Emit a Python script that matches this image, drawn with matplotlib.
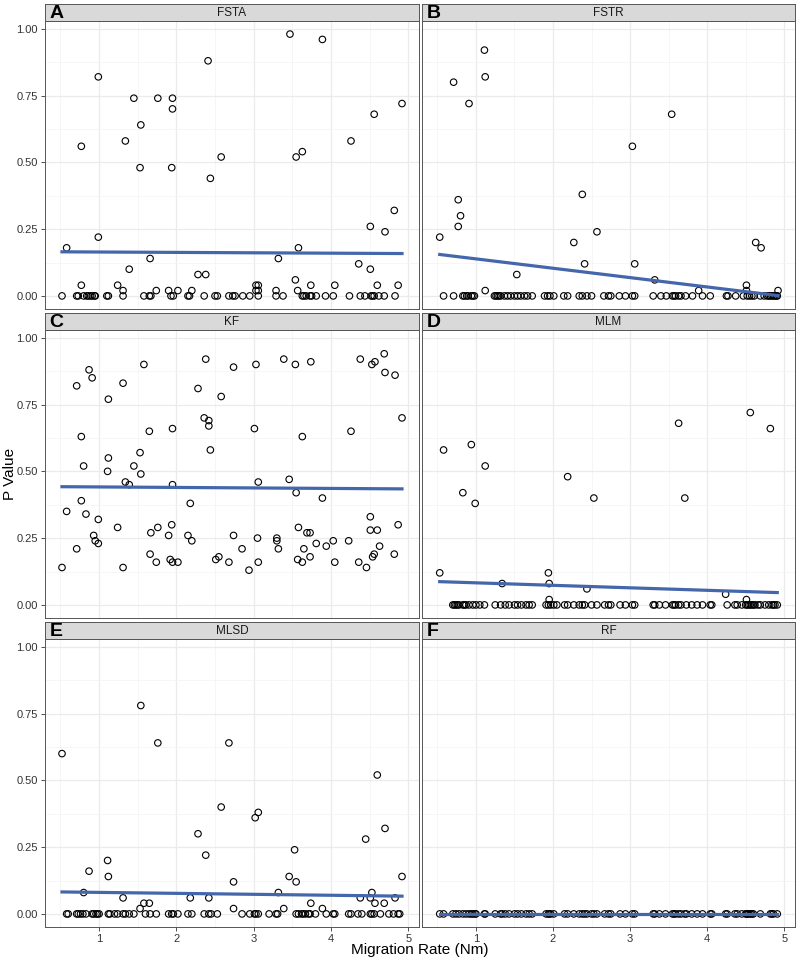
import matplotlib.pyplot as plt
import numpy as np

plt.rcParams['font.family'] = ['Liberation Sans', 'DejaVu Sans']

# ---- values (non-zero p values + runs that gave p = 0) ----
fsta_x = [0.58, 0.77, 0.77, 0.99, 0.99, 1.24, 1.31, 1.39, 1.34, 1.45, 1.54, 1.53, 1.66, 1.74, 1.76,
          1.90, 1.95, 1.95, 1.94, 2.02, 2.20, 2.28, 2.38, 2.41, 2.44, 2.58, 3.47, 3.89, 4.92, 4.56,
          4.26, 3.55, 3.63, 4.82, 4.51, 4.70, 3.58, 3.32, 4.36, 4.51, 3.54, 3.03, 3.06, 3.03, 3.06,
          3.29, 3.57, 3.74, 4.05, 4.60, 4.87]
fsta_p = [0.18, 0.04, 0.56, 0.82, 0.22, 0.04, 0.02, 0.10, 0.58, 0.74, 0.64, 0.48, 0.14, 0.02, 0.74,
          0.02, 0.74, 0.70, 0.48, 0.02, 0.02, 0.08, 0.08, 0.88, 0.44, 0.52, 0.98, 0.96, 0.72, 0.68,
          0.58, 0.52, 0.54, 0.32, 0.26, 0.24, 0.18, 0.14, 0.12, 0.10, 0.06, 0.04, 0.04, 0.02, 0.02,
          0.02, 0.02, 0.04, 0.04, 0.04, 0.04]
fsta_zero_x = [0.52, 0.71, 0.73, 0.80, 0.84, 0.86, 0.89, 0.91, 0.94, 0.95, 1.10, 1.12, 1.31,
               1.58, 1.65, 1.67, 1.93, 1.96, 2.15, 2.17, 2.36, 2.50, 2.53, 2.68, 2.73, 2.76,
               2.86, 2.95, 3.06, 3.29, 3.38, 3.63, 3.65, 3.68, 3.73, 3.75, 3.81, 3.93, 4.03, 4.24,
               4.38, 4.44, 4.52, 4.54, 4.56, 4.62, 4.69, 4.83]

fstr_x = [0.53, 0.71, 0.77, 0.80, 0.77, 0.91, 1.11, 1.12, 1.12, 1.53, 2.38, 2.27, 2.41, 2.57,
          3.03, 3.54, 3.06, 3.32, 3.89, 4.63, 4.70, 4.51, 4.51, 4.92]
fstr_p = [0.22, 0.80, 0.36, 0.30, 0.26, 0.72, 0.92, 0.82, 0.02, 0.08, 0.38, 0.20, 0.12, 0.24,
          0.56, 0.68, 0.12, 0.06, 0.02, 0.20, 0.18, 0.04, 0.02, 0.02]
fstr_zero_x = [0.58, 0.71, 0.83, 0.85, 0.88, 0.90, 0.94, 0.96, 0.98, 1.24, 1.26, 1.28, 1.30, 1.32,
               1.37, 1.41, 1.45, 1.50, 1.54, 1.58, 1.63, 1.67, 1.73, 1.89, 1.93, 1.96,
               2.01, 2.14, 2.19, 2.34, 2.38, 2.44, 2.50, 2.66, 2.72, 2.75, 2.86, 2.94, 3.03, 3.06,
               3.30, 3.40, 3.47, 3.55, 3.57, 3.59, 3.63, 3.66, 3.72, 3.81, 3.94, 4.04, 4.25, 4.27,
               4.37, 4.47, 4.52, 4.55, 4.58, 4.61, 4.69, 4.74, 4.78, 4.80, 4.82, 4.84, 4.86, 4.88,
               4.90, 4.91]

kf_x = [0.52, 0.58, 0.71, 0.71, 0.77, 0.80, 0.77, 0.83, 0.87, 0.91, 0.93, 0.95, 0.99, 0.99, 1.12,
        1.12, 1.11, 1.24, 1.31, 1.31, 1.34, 1.39, 1.45, 1.53, 1.54, 1.58, 1.65, 1.66, 1.74, 1.67,
        1.76, 1.90, 1.94, 1.92, 1.95, 2.02, 1.95, 1.95, 2.15, 2.20, 2.18, 2.28, 2.36, 2.42, 2.42,
        2.44, 2.38, 2.58, 2.51, 2.55, 2.68, 2.74, 2.74,
        3.03, 3.39, 3.54, 3.74, 4.38, 4.53, 4.57, 4.69, 4.70, 4.83, 4.92, 3.01, 3.63, 4.26, 3.06,
        3.46, 3.55, 3.89, 4.51, 4.87, 3.58, 3.69, 3.73, 4.51, 4.60, 2.85, 3.05, 3.30, 3.30, 3.32,
        3.81, 3.94, 4.03, 4.23, 3.65, 3.57, 3.63, 3.73, 4.05, 4.36, 4.63, 4.56, 4.54, 4.82, 2.94,
        3.06, 4.46]
kf_p = [0.14, 0.35, 0.82, 0.21, 0.63, 0.52, 0.39, 0.34, 0.88, 0.85, 0.26, 0.24, 0.23, 0.32, 0.77,
        0.55, 0.50, 0.29, 0.83, 0.14, 0.46, 0.45, 0.52, 0.57, 0.49, 0.90, 0.65, 0.19, 0.16, 0.27,
        0.29, 0.26, 0.30, 0.17, 0.16, 0.16, 0.66, 0.45, 0.26, 0.24, 0.38, 0.81, 0.70, 0.69, 0.67,
        0.58, 0.92, 0.78, 0.17, 0.18, 0.16, 0.89, 0.26,
        0.90, 0.92, 0.90, 0.91, 0.92, 0.90, 0.91, 0.94, 0.87, 0.86, 0.70, 0.66, 0.63, 0.65, 0.46,
        0.47, 0.42, 0.40, 0.33, 0.30, 0.29, 0.27, 0.27, 0.28, 0.28, 0.21, 0.25, 0.25, 0.24, 0.21,
        0.23, 0.22, 0.24, 0.24, 0.21, 0.17, 0.16, 0.18, 0.16, 0.16, 0.22, 0.19, 0.18, 0.19, 0.13,
        0.16, 0.14]
kf_zero_x = []

mlm_x = [0.53, 0.58, 0.94, 0.83, 0.99, 1.12, 1.34, 1.94, 1.95, 1.95, 2.19, 2.44, 2.53,
         3.63, 3.71, 4.56, 4.82, 4.24, 4.51]
mlm_p = [0.12, 0.58, 0.60, 0.42, 0.38, 0.52, 0.08, 0.12, 0.08, 0.02, 0.48, 0.06, 0.40,
         0.68, 0.40, 0.72, 0.66, 0.04, 0.02]
mlm_zero_x = [0.70, 0.72, 0.74, 0.76, 0.78, 0.83, 0.85, 0.87, 0.91, 0.96, 1.00, 1.05, 1.11, 1.25,
              1.32, 1.38, 1.43, 1.50, 1.54, 1.59, 1.65, 1.69, 1.73, 1.91, 1.94, 1.97, 2.01, 2.05,
              2.15, 2.19, 2.27, 2.34, 2.38, 2.41, 2.50, 2.57, 2.67, 2.72, 2.75, 2.87, 2.94, 3.03,
              3.06, 3.30, 3.32, 3.38, 3.46, 3.55, 3.57, 3.59, 3.63, 3.66, 3.73, 3.80, 3.87, 3.94,
              4.04, 4.06, 4.26, 4.36, 4.39, 4.45, 4.50, 4.52, 4.54, 4.56, 4.58, 4.60, 4.62, 4.66,
              4.69, 4.75, 4.80, 4.84, 4.86, 4.88, 4.91]

mlsd_x = [0.52, 0.80, 0.87, 1.11, 1.12, 1.31, 1.54, 1.53, 1.58, 1.65, 1.76, 2.18, 2.28, 2.38,
          2.42, 2.58, 2.68, 2.74, 2.74, 3.02, 3.06, 3.32, 3.39, 3.46, 3.53, 3.55, 3.74, 3.89,
          4.45, 4.60, 4.70, 4.38, 4.51, 4.53, 4.57, 4.69, 4.83, 4.92]
mlsd_p = [0.60, 0.08, 0.16, 0.20, 0.14, 0.06, 0.78, 0.02, 0.04, 0.04, 0.64, 0.06, 0.30, 0.22,
          0.06, 0.40, 0.64, 0.12, 0.02, 0.36, 0.38, 0.08, 0.02, 0.14, 0.24, 0.12, 0.04, 0.02,
          0.28, 0.52, 0.32, 0.06, 0.06, 0.08, 0.04, 0.04, 0.06, 0.14]
mlsd_zero_x = [0.58, 0.60, 0.71, 0.73, 0.76, 0.79, 0.83, 0.91, 0.93, 0.96, 0.98, 1.00, 1.12, 1.14,
               1.20, 1.24, 1.31, 1.34, 1.39, 1.45, 1.60, 1.66, 1.74, 1.90, 1.94, 1.96, 2.02, 2.15,
               2.20, 2.36, 2.42, 2.45, 2.53, 2.85, 2.95, 3.01, 3.03, 3.06, 3.20, 3.29, 3.31, 3.55,
               3.58, 3.62, 3.64, 3.67, 3.71, 3.73, 3.80, 3.94, 4.03, 4.05, 4.23, 4.26, 4.35, 4.40,
               4.51, 4.53, 4.56, 4.64, 4.75, 4.81, 4.87, 4.89]

rf_x = []
rf_p = []
rf_zero_x = [0.53, 0.58, 0.70, 0.74, 0.78, 0.83, 0.87, 0.91, 0.94, 0.96, 0.99, 1.00, 1.11, 1.12,
             1.25, 1.32, 1.34, 1.38, 1.43, 1.50, 1.54, 1.59, 1.65, 1.69, 1.73, 1.91, 1.94, 1.95,
             1.97, 2.01, 2.15, 2.19, 2.27, 2.34, 2.38, 2.41, 2.44, 2.50, 2.53, 2.57, 2.67, 2.72,
             2.75, 2.87, 2.94, 3.03, 3.06, 3.30, 3.32, 3.38, 3.46, 3.55, 3.57, 3.59, 3.63, 3.66,
             3.71, 3.73, 3.80, 3.87, 3.94, 4.04, 4.06, 4.24, 4.26, 4.36, 4.39, 4.45, 4.50, 4.51,
             4.52, 4.54, 4.56, 4.58, 4.60, 4.69, 4.82, 4.84, 4.86, 4.91]

letters = ['A', 'B', 'C', 'D', 'E', 'F']
methods = ['FSTA', 'FSTR', 'KF', 'MLM', 'MLSD', 'RF']


def combine(nx, npv, zx):
    x = np.array(nx + zx, dtype=float)
    p = np.array(npv + [0.0] * len(zx), dtype=float)
    return x, p


data = [combine(fsta_x, fsta_p, fsta_zero_x),
        combine(fstr_x, fstr_p, fstr_zero_x),
        combine(kf_x, kf_p, kf_zero_x),
        combine(mlm_x, mlm_p, mlm_zero_x),
        combine(mlsd_x, mlsd_p, mlsd_zero_x),
        combine(rf_x, rf_p, rf_zero_x)]

# linear fits (geom_smooth(method = "lm"))
fits = []
for x, p in data:
    b, a = np.polyfit(x, p, 1)
    xs = np.array([x.min(), x.max()])
    fits.append((xs, a + b * xs))

# shared scales with 5% expansion like ggplot
all_x = np.concatenate([d[0] for d in data])
all_y = np.concatenate([d[1] for d in data] + [f[1] for f in fits])
xr = all_x.max() - all_x.min()
yr = all_y.max() - all_y.min()
xlim = (all_x.min() - 0.05 * xr, all_x.max() + 0.05 * xr)
ylim = (all_y.min() - 0.05 * yr, all_y.max() + 0.05 * yr)

W, H = 800, 960
fig = plt.figure(figsize=(8, 9.6), dpi=100)

col_left = [45, 422]
col_w = [374, 373]
row_top = [21, 330, 639]
panel_h = 288
strip_h = 17
line_col = '#4466aa'

for i in range(6):
    r, c = divmod(i, 2)
    left = col_left[c] / W
    width = col_w[c] / W
    bottom = 1 - (row_top[r] + panel_h) / H
    height = panel_h / H
    ax = fig.add_axes([left, bottom, width, height])
    x, p = data[i]
    ax.scatter(x, p, s=22, facecolors='none', edgecolors='black', linewidths=0.8, zorder=3)
    ax.plot(fits[i][0], fits[i][1], color=line_col, lw=2.3, zorder=4)
    ax.set_xlim(xlim)
    ax.set_ylim(ylim)
    ax.set_xticks([1, 2, 3, 4, 5])
    ax.set_xticks([0.5, 1.5, 2.5, 3.5, 4.5], minor=True)
    ax.set_yticks([0, 0.25, 0.5, 0.75, 1.0])
    ax.set_yticks([0.125, 0.375, 0.625, 0.875], minor=True)
    ax.grid(True, which='major', color='#ebebeb', lw=0.9, zorder=0)
    ax.grid(True, which='minor', color='#f3f3f3', lw=0.5, zorder=0)
    ax.set_axisbelow(True)
    for s in ax.spines.values():
        s.set_color('#555555')
        s.set_linewidth(0.7)
    ax.tick_params(which='minor', length=0)
    ax.tick_params(which='major', length=3, width=0.6, color='#333333',
                   labelsize=8, labelcolor='#333333', pad=2)
    if r == 2:
        ax.set_xticklabels(['1', '2', '3', '4', '5'])
    else:
        ax.tick_params(axis='x', length=0, labelbottom=False)
    if c == 0:
        ax.set_yticklabels(['0.00', '0.25', '0.50', '0.75', '1.00'])
    else:
        ax.tick_params(axis='y', length=0, labelleft=False)

    # facet strip
    sax = fig.add_axes([left, 1 - row_top[r] / H, width, strip_h / H])
    sax.set_facecolor('#d9d9d9')
    sax.set_xticks([])
    sax.set_yticks([])
    for s in sax.spines.values():
        s.set_color('#555555')
        s.set_linewidth(0.7)
    sax.text(0.5, 0.45, methods[i], ha='center', va='center', fontsize=8.5,
             color='#1a1a1a', transform=sax.transAxes)
    sax.text(0.012, 0.42, letters[i], ha='left', va='center', fontsize=14,
             fontweight='bold', color='black', transform=sax.transAxes)

fig.text(10 / W, 1 - 474 / H, 'P Value', rotation=90, ha='center', va='center', fontsize=11)
fig.text(420 / W, 1 - 950 / H, 'Migration Rate (Nm)', ha='center', va='center', fontsize=11)

fig.savefig('out.png', dpi=100)
